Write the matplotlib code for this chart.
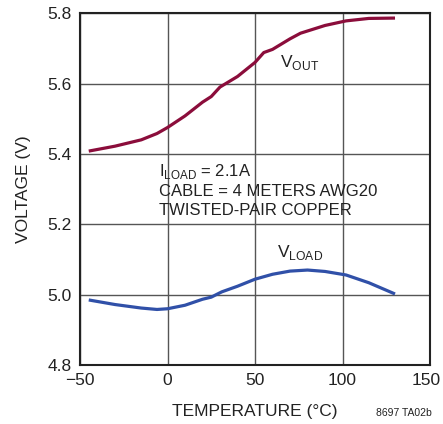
import numpy as np
import matplotlib.pyplot as plt
from matplotlib.transforms import ScaledTranslation

# values
temp_out = [-45, -30, -15, -6, 0, 10, 20, 25, 30, 40, 50, 55, 60, 70, 76, 90, 102, 115, 130]
v_out = [5.408, 5.422, 5.440, 5.458, 5.475, 5.508, 5.547, 5.563, 5.590, 5.620, 5.660, 5.688, 5.697, 5.727, 5.743, 5.765, 5.778, 5.785, 5.786]

temp_load = [-45, -30, -15, -6, 0, 10, 20, 25, 31, 40, 50, 60, 70, 80, 90, 102, 115, 130]
v_load = [4.985, 4.972, 4.962, 4.958, 4.960, 4.970, 4.987, 4.993, 5.008, 5.024, 5.044, 5.058, 5.067, 5.070, 5.066, 5.056, 5.034, 5.002]

xticks = [-50, 0, 50, 100, 150]
xticklabels = ["\u221250", "0", "50", "100", "150"]
yticks = [4.8, 5.0, 5.2, 5.4, 5.6, 5.8]

plt.rcParams['font.family'] = ['Liberation Sans', 'DejaVu Sans']
plt.rcParams['mathtext.fontset'] = 'custom'
plt.rcParams['mathtext.rm'] = 'Liberation Sans'

fig = plt.figure(figsize=(4.43, 4.24), dpi=100)
ax = fig.add_axes([0.1806, 0.139, 0.7901, 0.830])

ax.plot(temp_out, v_out, color='#8B0D3B', lw=2.3, solid_capstyle='butt')
ax.plot(temp_load, v_load, color='#3050A8', lw=2.3, solid_capstyle='butt')

ax.set_xlim(-50, 150)
ax.set_ylim(4.8, 5.8)
ax.set_xticks(xticks)
ax.set_xticklabels(xticklabels)
ax.set_yticks(yticks)
ax.set_yticklabels(["%.1f" % v for v in yticks])
ax.tick_params(length=0, labelsize=12.5, colors='#222222', pad=6)
ax.grid(True, color='#555555', lw=1.0)
for s in ax.spines.values():
    s.set_color('#222222')
    s.set_linewidth(1.5)

# last x label sits on the figure edge; nudge it in a little
lbl = ax.get_xticklabels()[-1]
lbl.set_transform(lbl.get_transform() + ScaledTranslation(-4 / 100, 0, fig.dpi_scale_trans))

ax.set_xlabel("TEMPERATURE (\u00b0C)", fontsize=12.5, color='#222222', labelpad=11)
ax.set_ylabel("VOLTAGE (V)", fontsize=12.5, color='#222222', labelpad=12)

ax.text(64, 5.648, "V$_{\\mathregular{OUT}}$", fontsize=12.5, color='#222222')
ax.text(62.5, 5.108, "V$_{\\mathregular{LOAD}}$", fontsize=12.5, color='#222222')
ax.text(-5, 5.378, "I$_{\\mathregular{LOAD}}$ = 2.1A\nCABLE = 4 METERS AWG20\nTWISTED-PAIR COPPER",
        fontsize=12, color='#222222', va='top', linespacing=1.3)

fig.text(0.975, 0.018, "8697 TA02b", fontsize=7.5, color='#222222', ha='right')

fig.savefig("out.png", dpi=100)
